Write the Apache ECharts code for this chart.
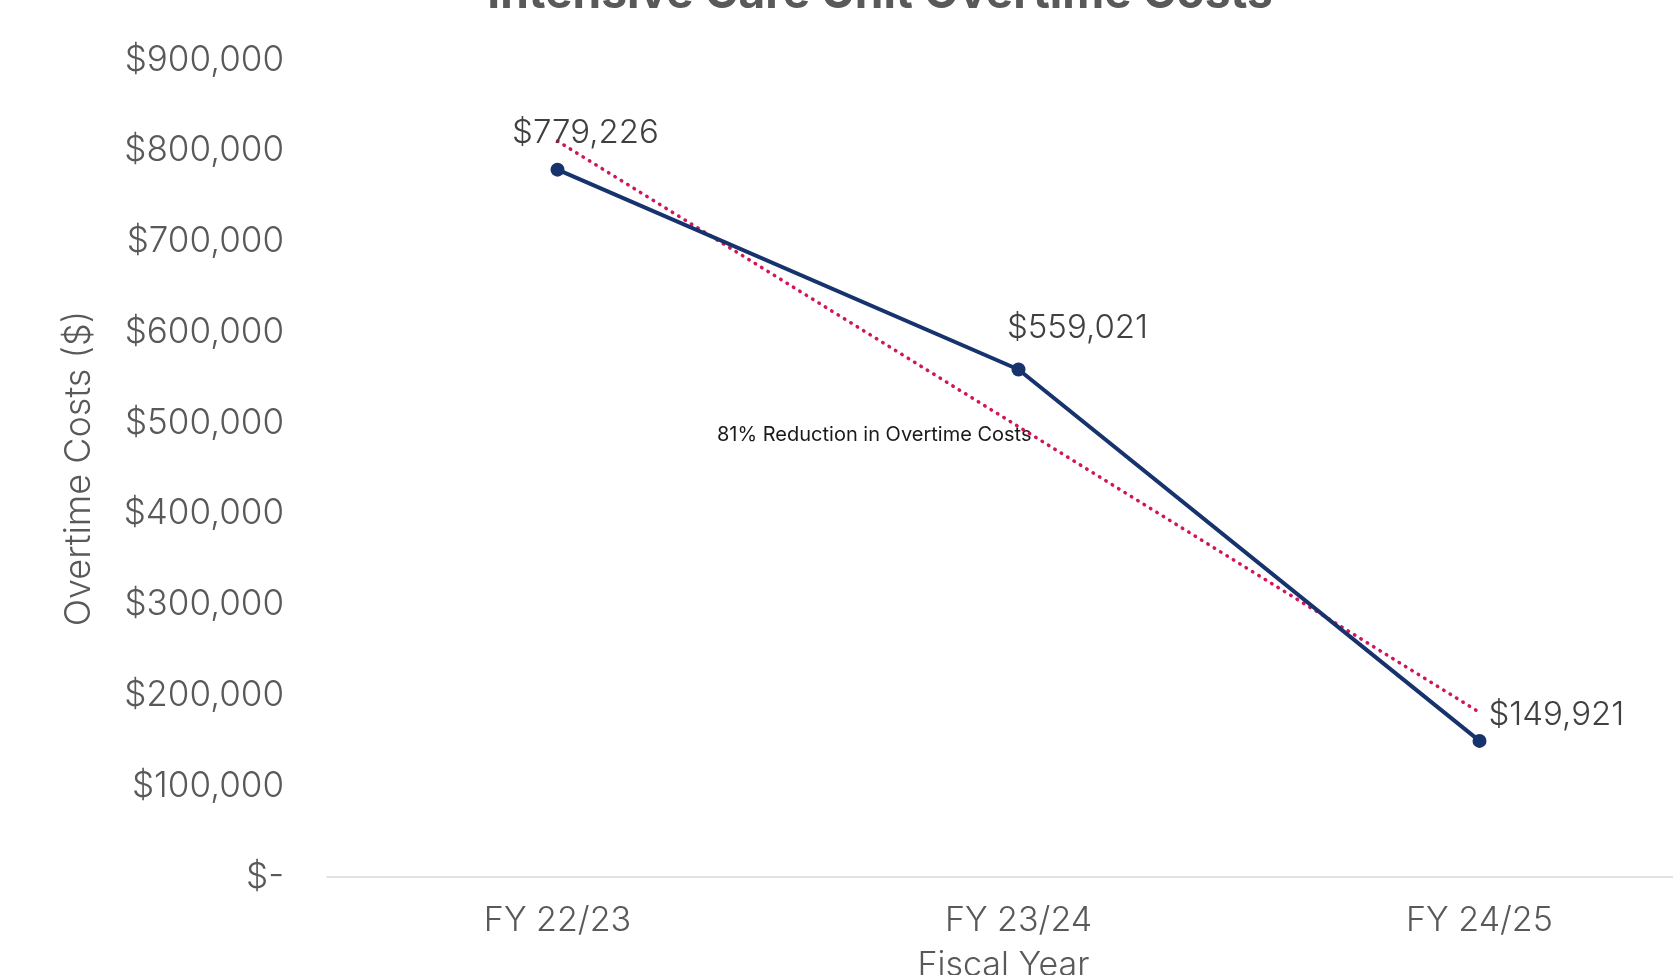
<!DOCTYPE html>
<html>
<head>
<meta charset="utf-8">
<script src="https://cdn.jsdelivr.net/npm/echarts@6/dist/echarts.min.js"></script>
<style>html,body{margin:0;padding:0;background:#fff;}#c{width:1673px;height:975px;}</style>
</head>
<body>
<div id="c"></div>
<script>
const categories = ['FY 22/23', 'FY 23/24', 'FY 24/25'];
const overtimeCosts = [779226, 559021, 149921];
const trendValues = [810700, 496100, 181400];
const yTicks = [0, 100000, 200000, 300000, 400000, 500000, 600000, 700000, 800000, 900000];
const titleText = 'Intensive Care Unit Overtime Costs';
const trendLabel = '81% Reduction in Overtime Costs';

const FONT = 'Inter';
const chart = echarts.init(document.getElementById('c'), null, {renderer: 'canvas'});
function money(v) {
  if (v === 0) return '$-';
  return '$' + v.toString().replace(/\B(?=(\d{3})+(?!\d))/g, ',');
}
const labelPos = [
  {position: 'top', offset: [28, -8]},
  {position: 'top', offset: [59, -13]},
  {position: 'right', offset: [-3, -26]}
];
chart.setOption({
  animation: false,
  backgroundColor: '#fff',
  grid: {left: 327, width: 1383, top: 60, bottom: 98, containLabel: false, outerBoundsMode: 'none'},
  xAxis: {
    type: 'category', data: categories, boundaryGap: true,
    axisLine: {lineStyle: {color: '#d9d9d9', width: 1.5}},
    axisTick: {show: false},
    axisLabel: {fontFamily: FONT, fontSize: 34, fontWeight: 300, color: '#595959', margin: 27},
    name: 'Fiscal Year', nameLocation: 'middle', nameGap: 72,
    nameTextStyle: {fontFamily: FONT, fontSize: 34, fontWeight: 300, color: '#595959', padding: [0, 30, 0, 0]}
  },
  yAxis: {
    type: 'value', min: 0, max: 900000, interval: 100000,
    splitLine: {show: false},
    axisLine: {show: false}, axisTick: {show: false},
    axisLabel: {fontFamily: FONT, fontSize: 35, fontWeight: 300, color: '#595959', margin: 43,
      formatter: v => yTicks.includes(v) ? money(v) : ''},
    name: 'Overtime Costs ($)', nameLocation: 'middle', nameGap: 230,
    nameTextStyle: {fontFamily: FONT, fontSize: 36, fontWeight: 300, color: '#595959'}
  },
  series: [
    {
      type: 'line', data: trendValues, symbol: 'none', silent: true, z: 1,
      lineStyle: {color: '#d2145a', width: 3.5, type: [0.5, 7], cap: 'round'}
    },
    {
      type: 'line', z: 2,
      data: overtimeCosts.map((v, i) => ({value: v, label: labelPos[i]})),
      symbol: 'circle', symbolSize: 14,
      itemStyle: {color: '#17336e'},
      lineStyle: {color: '#17336e', width: 4},
      label: {show: true, fontFamily: FONT, fontSize: 33, fontWeight: 300, color: '#404040', formatter: p => money(p.value)}
    }
  ],
  graphic: [
    {
      type: 'text', x: 880, y: -29,
      style: {text: titleText, fontFamily: FONT, fontWeight: 'bold', fontSize: 46, fill: '#595959', align: 'center', verticalAlign: 'top'}
    },
    {
      type: 'text', left: 717, top: 425,
      style: {text: trendLabel, fontFamily: FONT, fontSize: 20, fill: '#1a1a1a'}
    }
  ]
});
</script>
</body>
</html>
